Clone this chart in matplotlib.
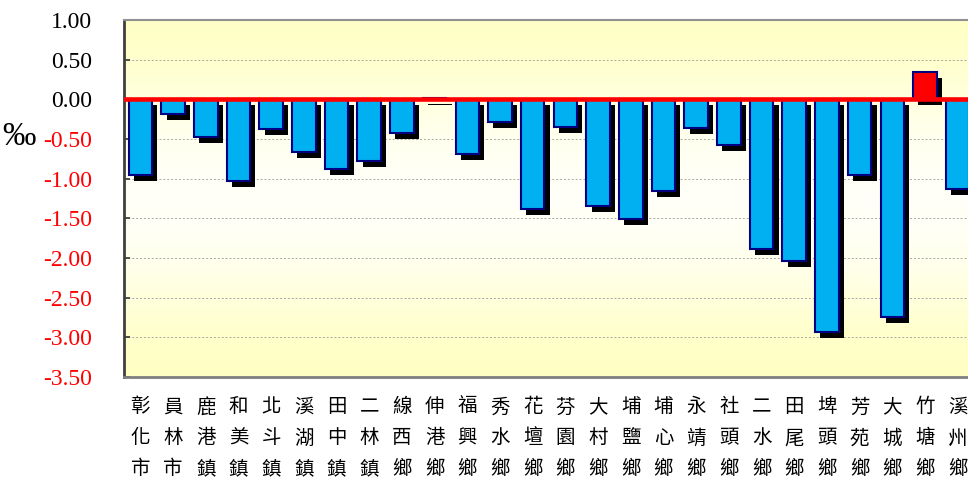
import numpy as np
import matplotlib
matplotlib.use("Agg")
import matplotlib.pyplot as plt
import matplotlib.patheffects as pe

# 彰化縣各鄉鎮市 (‰)
towns = ['彰化市', '員林市', '鹿港鎮', '和美鎮', '北斗鎮', '溪湖鎮', '田中鎮', '二林鎮',
         '線西鄉', '伸港鄉', '福興鄉', '秀水鄉', '花壇鄉', '芬園鄉', '大村鄉', '埔鹽鄉',
         '埔心鄉', '永靖鄉', '社頭鄉', '二水鄉', '田尾鄉', '埤頭鄉', '芳苑鄉', '大城鄉',
         '竹塘鄉', '溪州鄉']
values = [-0.95, -0.18, -0.47, -1.03, -0.38, -0.67, -0.88, -0.78,
          -0.43, 0.02, -0.69, -0.29, -1.38, -0.35, -1.35, -1.51,
          -1.16, -0.36, -0.58, -1.89, -2.04, -2.93, -0.95, -2.74,
          0.34, -1.13]
yticks = [1.0, 0.5, 0.0, -0.5, -1.0, -1.5, -2.0, -2.5, -3.0, -3.5]

fig = plt.figure(figsize=(9.68, 4.86), dpi=100)
# plot area runs past the right edge of the picture, like the reference
ax = fig.add_axes([124/968, 109/486, 850/968, 357/486])

# background gradient: yellow -> almost white -> yellow
grad = np.array([[255, 255, 198], [255, 255, 238], [255, 255, 252],
                 [255, 255, 238], [255, 255, 195]]) / 255.0
ax.imshow(grad.reshape(-1, 1, 3), aspect='auto', extent=[0, 1, 0, 1],
          transform=ax.transAxes, interpolation='bicubic', zorder=0)

x = np.arange(len(towns))
colors = ['#FF0000' if v > 0 else '#00B0F0' for v in values]
bars = ax.bar(x, values, width=0.72, color=colors, edgecolor='#000080',
              linewidth=1.5, zorder=3)
for b in bars:
    b.set_path_effects([pe.SimplePatchShadow(offset=(3.8, -4.3),
                                             shadow_rgbFace='black', alpha=1.0),
                        pe.Normal()])

ax.axhline(0, color='#FF0000', lw=3.3, zorder=5)

ax.set_xlim(-0.5, len(towns) - 0.5)
ax.set_ylim(-3.5, 1.0)
ax.set_yticks(yticks)
ax.set_yticklabels(['%.2f' % t for t in yticks], fontfamily='Liberation Serif',
                   fontsize=17)
for lab, t in zip(ax.get_yticklabels(), yticks):
    lab.set_color('red' if t < 0 else 'black')
ax.yaxis.grid(True, linestyle=(0, (2, 2)), color='#A8A8A8', lw=0.7, zorder=1)
ax.tick_params(axis='y', direction='in', length=4, width=1.3, color='#404040', pad=23)

ax.set_xticks(x)
ax.set_xticklabels(['\n'.join(n) for n in towns], fontfamily='Noto Sans CJK TC',
                   fontsize=14, linespacing=1.62)
ax.tick_params(axis='x', length=0, pad=14)

ax.spines['left'].set_color('#404040')
ax.spines['left'].set_linewidth(2)
ax.spines['bottom'].set_color('#808080')
ax.spines['bottom'].set_linewidth(2)
ax.spines['top'].set_color('#909090')
ax.spines['top'].set_linewidth(1.5)
ax.spines['right'].set_visible(False)

fig.text(19/968, 1 - 137/486, '‰', fontfamily='Liberation Serif', fontsize=24,
         ha='center', va='center')

fig.savefig('out.png', dpi=100)
